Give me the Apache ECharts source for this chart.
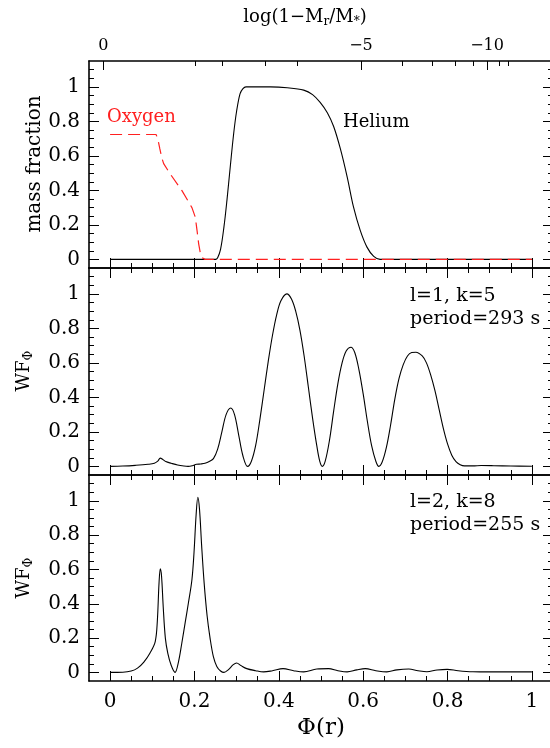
<!DOCTYPE html>
<html>
<head>
<meta charset="utf-8">
<script src="https://cdn.jsdelivr.net/npm/echarts@6/dist/echarts.min.js"></script>
<style>
  html, body { margin: 0; padding: 0; background: #fff; }
  #chart { width: 550px; height: 748px; }
</style>
</head>
<body>
<div id="chart"></div>
<script>
// tick positions (in Φ units for the x axes)
const phiMajor = [0, 0.2, 0.4, 0.6, 0.8, 1];
const phiMinor = [0.05, 0.1, 0.15, 0.25, 0.3, 0.35, 0.45, 0.5, 0.55, 0.65, 0.7, 0.75, 0.85, 0.9, 0.95];
const yMajor = [0, 0.2, 0.4, 0.6, 0.8, 1];
const yMinor = [0.05, 0.1, 0.15, 0.25, 0.3, 0.35, 0.45, 0.5, 0.55, 0.65, 0.7, 0.75, 0.85, 0.9, 0.95, 1.05, 1.1];

// top axis: log(1-Mr/M*) ticks, placed at their Φ position
const logTickPhi = [-0.016, 0.2017, 0.265, 0.3677, 0.443, 0.5948, 0.692, 0.763, 0.8185, 0.862, 0.8937, 0.923, 0.945];
const logTickVal = [0, -1, -2, -3, -4, -5, -6, -7, -8, -9, -10, -11, -12];
const logLabelled = [0, -5, -10];

// top panel: chemical profiles
const oxyPhi  = [0, 0.109, 0.113, 0.118, 0.123, 0.127, 0.142, 0.17, 0.194, 0.202, 0.206, 0.21, 0.214, 0.218, 0.225, 1];
const oxyFrac = [0.724, 0.724, 0.7, 0.64, 0.585, 0.555, 0.497, 0.4, 0.3, 0.245, 0.17, 0.09, 0.035, 0.01, 0, 0];

const hePhi  = [0, 0.25, 0.255, 0.262, 0.27, 0.277, 0.285, 0.293, 0.3, 0.308, 0.315, 0.322, 0.38, 0.42, 0.459, 0.48, 0.498, 0.515, 0.53, 0.546, 0.562, 0.577, 0.593, 0.609, 0.625, 0.64, 1];
const heFrac = [0, 0, 0.01, 0.06, 0.19, 0.342, 0.54, 0.73, 0.86, 0.96, 0.99, 1, 1, 0.995, 0.981, 0.955, 0.91, 0.85, 0.77, 0.64, 0.478, 0.304, 0.168, 0.071, 0.017, 0, 0];

// middle panel: l=1, k=5
const k5Phi = [0, 0.03, 0.06, 0.09, 0.105, 0.113, 0.119, 0.125, 0.132, 0.145, 0.16, 0.175, 0.185, 0.195, 0.205, 0.215, 0.225, 0.235, 0.245, 0.255, 0.265, 0.275, 0.286, 0.295, 0.305, 0.315, 0.326,
  0.335, 0.345, 0.355, 0.365, 0.375, 0.385, 0.395, 0.405, 0.419, 0.43, 0.44, 0.45, 0.46, 0.47, 0.48, 0.49, 0.497, 0.503,
  0.51, 0.52, 0.53, 0.54, 0.55, 0.56, 0.571, 0.58, 0.59, 0.6, 0.61, 0.62, 0.63, 0.637,
  0.645, 0.655, 0.665, 0.675, 0.685, 0.695, 0.705, 0.715, 0.725, 0.74, 0.75, 0.76, 0.77, 0.78, 0.79, 0.8, 0.81, 0.82, 0.83, 0.84, 0.86, 0.88, 0.91, 0.95, 1];
const k5Wf = [0, 0.002, 0.006, 0.012, 0.018, 0.03, 0.048, 0.04, 0.028, 0.018, 0.008, 0.002, 0, 0.004, 0.012, 0.014, 0.018, 0.028, 0.045, 0.1, 0.2, 0.3, 0.338, 0.3, 0.18, 0.06, 0,
  0.03, 0.12, 0.27, 0.44, 0.61, 0.76, 0.88, 0.96, 1, 0.97, 0.9, 0.79, 0.64, 0.46, 0.28, 0.12, 0.03, 0,
  0.03, 0.15, 0.32, 0.48, 0.6, 0.67, 0.691, 0.66, 0.56, 0.42, 0.26, 0.12, 0.03, 0,
  0.025, 0.11, 0.24, 0.39, 0.51, 0.59, 0.64, 0.66, 0.662, 0.64, 0.6, 0.53, 0.44, 0.33, 0.22, 0.13, 0.065, 0.028, 0.01, 0.003, 0.003, 0.005, 0.004, 0.002, 0.001];

// bottom panel: l=2, k=8
const k8Phi = [0, 0.03, 0.05, 0.065, 0.08, 0.095, 0.107, 0.112, 0.116, 0.119, 0.122, 0.126, 0.131, 0.137, 0.145, 0.154,
  0.162, 0.17, 0.178, 0.186, 0.194, 0.199, 0.204, 0.208, 0.212, 0.217, 0.223, 0.23, 0.237, 0.245, 0.253, 0.262, 0.27,
  0.28, 0.292, 0.3, 0.31, 0.324, 0.345, 0.364, 0.385, 0.41, 0.435, 0.459, 0.49, 0.518, 0.54, 0.562, 0.585, 0.605, 0.63, 0.656,
  0.68, 0.708, 0.73, 0.751, 0.775, 0.799, 0.825, 0.86, 0.9, 1];
const k8Wf = [0, 0.001, 0.008, 0.025, 0.06, 0.115, 0.18, 0.3, 0.52, 0.603, 0.56, 0.38, 0.2, 0.11, 0.04, 0,
  0.06, 0.17, 0.29, 0.41, 0.54, 0.7, 0.92, 1.02, 0.95, 0.74, 0.52, 0.33, 0.2, 0.09, 0.035, 0.008, 0,
  0.015, 0.045, 0.055, 0.04, 0.022, 0.01, 0.003, 0.01, 0.022, 0.01, 0.003, 0.02, 0.022, 0.01, 0.003, 0.015, 0.022, 0.01, 0.003,
  0.015, 0.02, 0.01, 0.004, 0.014, 0.018, 0.01, 0.004, 0.003, 0.003];

const FONT = 'DejaVu Serif';
const zip = (xs, ys) => xs.map((x, i) => [x, ys[i]]);
const fmt = v => String(Math.round(v * 10) / 10);

const grids = [
  { left: 89, top: 61, width: 464, height: 207, outerBoundsMode: 'none', containLabel: false },
  { left: 89, top: 268, width: 464, height: 207, outerBoundsMode: 'none', containLabel: false },
  { left: 89, top: 475, width: 464, height: 206, outerBoundsMode: 'none', containLabel: false }
];

function xAx(grid, pos, ticks, len, line, label) {
  return {
    type: 'value', gridIndex: grid, position: pos, min: -0.05, max: 1.05,
    axisLine: { show: line, onZero: false, lineStyle: { color: '#000', width: 1.6 } },
    axisTick: { show: true, inside: true, length: len, customValues: ticks, lineStyle: { color: '#000', width: 1 } },
    axisLabel: label || { show: false },
    splitLine: { show: false }
  };
}
function yAx(grid, pos, ticks, len, line, label) {
  return {
    type: 'value', gridIndex: grid, position: pos, min: -0.05, max: 1.15,
    axisLine: { show: line, onZero: false, lineStyle: { color: '#000', width: 1.6 } },
    axisTick: { show: true, inside: true, length: len, customValues: ticks, lineStyle: { color: '#000', width: 1 } },
    axisLabel: label || { show: false },
    splitLine: { show: false }
  };
}

const logMajorPhi = logTickPhi.filter((p, i) => logLabelled.includes(logTickVal[i]));
const logMinorPhi = logTickPhi.filter((p, i) => !logLabelled.includes(logTickVal[i]));

const xAxes = [];
const yAxes = [];
grids.forEach((g, gi) => {
  const bottomLabel = gi === 2 ? {
    show: true, customValues: phiMajor, margin: 11, color: '#000',
    fontFamily: FONT, fontSize: 20, formatter: fmt
  } : null;
  xAxes.push(xAx(gi, 'bottom', phiMajor, 10, true, bottomLabel));
  xAxes.push(xAx(gi, 'bottom', phiMinor, 5, false));
  if (gi === 0) {
    xAxes.push(xAx(gi, 'top', logMajorPhi, 9, true, {
      show: true, customValues: logMajorPhi, margin: 7, color: '#000', fontFamily: FONT, fontSize: 16,
      formatter: v => {
        const i = logTickPhi.findIndex(p => Math.abs(p - v) < 1e-6);
        const n = logTickVal[i];
        return n === 0 ? '0' : '\u2212' + Math.abs(n);
      }
    }));
    xAxes.push(xAx(gi, 'top', logMinorPhi, 5, false));
  } else {
    xAxes.push(xAx(gi, 'top', phiMajor, 10, true));
    xAxes.push(xAx(gi, 'top', phiMinor, 5, false));
  }
  yAxes.push(yAx(gi, 'left', yMajor, 10, true, {
    show: true, customValues: yMajor, margin: 9, color: '#000', fontFamily: FONT, fontSize: 20, formatter: fmt
  }));
  yAxes.push(yAx(gi, 'left', yMinor, 5, false));
  yAxes.push(yAx(gi, 'right', yMajor, 10, true));
  yAxes.push(yAx(gi, 'right', yMinor, 5, false));
});

function curve(gi, xs, ys, color, width, type, smooth) {
  return {
    type: 'line', xAxisIndex: gi * 4, yAxisIndex: gi * 4, data: zip(xs, ys),
    showSymbol: false, symbol: 'none', smooth: smooth,
    lineStyle: { color: color, width: width, type: type }, silent: true
  };
}

const txt = (x, y, text, size, extra) => ({
  type: 'text', x: x, y: y, silent: true,
  style: Object.assign({ text: text, fontFamily: FONT, fontSize: size, fill: '#000', align: 'left', verticalAlign: 'middle' }, extra || {})
});
const subRich = {
  t: { fontFamily: FONT, fontSize: 18, lineHeight: 22, verticalAlign: 'middle' },
  s: { fontFamily: FONT, fontSize: 12, lineHeight: 11, verticalAlign: 'bottom' }
};
const wfRich = {
  t: { fontFamily: FONT, fontSize: 18, lineHeight: 22, verticalAlign: 'middle' },
  s: { fontFamily: FONT, fontSize: 12, lineHeight: 11, verticalAlign: 'bottom' }
};

const option = {
  animation: false,
  backgroundColor: '#fff',
  grid: grids,
  xAxis: xAxes,
  yAxis: yAxes,
  series: [
    curve(0, hePhi, heFrac, '#000', 1.1, 'solid', 0.35),
    curve(0, oxyPhi, oxyFrac, '#ff2020', 1.2, [12, 6], false),
    curve(1, k5Phi, k5Wf, '#000', 1.1, 'solid', 0.35),
    curve(2, k8Phi, k8Wf, '#000', 1.1, 'solid', 0.35)
  ],
  graphic: [
    txt(305, 17, '{t|log(1\u2212M}{s|r}{t|/M}{s|*}{t|)}', 18, { align: 'center', rich: subRich }),
    txt(107, 117, 'Oxygen', 18, { fill: '#ff2020' }),
    txt(343, 122, 'Helium', 18),
    txt(410, 296, 'l=1, k=5', 19),
    txt(410, 319, 'period=293 s', 19),
    txt(410, 502, 'l=2, k=8', 19),
    txt(410, 525, 'period=255 s', 19),
    txt(321, 728, '\u03a6(r)', 23, { align: 'center' }),
    {
      type: 'text', x: 35, y: 164, rotation: Math.PI / 2, silent: true,
      style: { text: 'mass fraction', fontFamily: FONT, fontSize: 20, fill: '#000', align: 'center', verticalAlign: 'middle' }
    }
  ].concat([371, 578].map(cy => ({
    type: 'text', x: 24, y: cy, rotation: Math.PI / 2, silent: true,
    style: { text: '{t|WF}{s|\u03a6}', rich: wfRich, align: 'center', verticalAlign: 'middle', fill: '#000' }
  })))
};

const chart = echarts.init(document.getElementById('chart'), null, { renderer: 'canvas' });
chart.setOption(option);
</script>
</body>
</html>
